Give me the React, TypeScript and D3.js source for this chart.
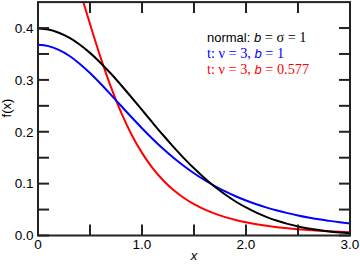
import React from "react";
import * as d3 from "d3";

const xs = [0, 0.1, 0.2, 0.3, 0.4, 0.5, 0.6, 0.7, 0.8, 0.9, 1.0, 1.1, 1.2, 1.3, 1.4, 1.5, 1.6, 1.7, 1.8, 1.9, 2.0, 2.1, 2.2, 2.3, 2.4, 2.5, 2.6, 2.7, 2.8, 2.9, 3.0];
const normalVals = [0.3989, 0.397, 0.391, 0.3814, 0.3683, 0.3521, 0.3332, 0.3123, 0.2897, 0.2661, 0.242, 0.2179, 0.1942, 0.1714, 0.1497, 0.1295, 0.1109, 0.094, 0.079, 0.0656, 0.054, 0.044, 0.0355, 0.0283, 0.0224, 0.0175, 0.0136, 0.0104, 0.0079, 0.006, 0.0044];
const tB1Vals = [0.3676, 0.3651, 0.3579, 0.3465, 0.3313, 0.3132, 0.293, 0.2716, 0.2497, 0.2279, 0.2068, 0.1866, 0.1678, 0.1504, 0.1345, 0.12, 0.107, 0.0954, 0.085, 0.0757, 0.0675, 0.0603, 0.0538, 0.0481, 0.0431, 0.0387, 0.0347, 0.0312, 0.0282, 0.0254, 0.023];
const tB0577Vals = [0.637, 0.6245, 0.589, 0.5362, 0.4734, 0.4077, 0.3444, 0.2869, 0.2368, 0.1944, 0.1593, 0.1304, 0.107, 0.088, 0.0727, 0.0603, 0.0503, 0.0421, 0.0354, 0.03, 0.0255, 0.0218, 0.0187, 0.0161, 0.0139, 0.0121, 0.0106, 0.0093, 0.0082, 0.0072, 0.0064];

const xMajor = [0, 1, 2, 3];
const xMajorLabels = ["0", "1.0", "2.0", "3.0"];
const xTicksAll = [0, 0.5, 1, 1.5, 2, 2.5, 3];
const yMajor = [0, 0.1, 0.2, 0.3, 0.4];
const yMajorLabels = ["0.0", "0.1", "0.2", "0.3", "0.4"];
const yTicksAll = [0, 0.05, 0.1, 0.15, 0.2, 0.25, 0.3, 0.35, 0.4];

const SANS = "'Liberation Sans', Arial, Helvetica, sans-serif";
const SERIF = "'Liberation Serif', 'Times New Roman', serif";

export default function App() {
  const W = 360, H = 265;
  const L = 38, R = 350, T = 2.1, B = 235.5;
  const x = d3.scaleLinear().domain([0, 3]).range([L, R]);
  const y = d3.scaleLinear().domain([0, 0.45]).range([B, T]);
  const line = d3
    .line<number>()
    .x((_, i) => x(xs[i]))
    .y((d) => y(d))
    .curve(d3.curveCatmullRom.alpha(0.5));
  const tick = 11;
  const frame = "#222";
  const series = [
    { vals: tB0577Vals, color: "#ff0000" },
    { vals: tB1Vals, color: "#0000ff" },
    { vals: normalVals, color: "#000000" },
  ];
  return (
    <svg width={W} height={H} style={{ position: "absolute", left: 0, top: 0 }}>
      <rect x={0} y={0} width={W} height={H} fill="#fff" />
      <defs>
        <clipPath id="plotclip">
          <rect x={L} y={T} width={R - L} height={B - T} />
        </clipPath>
      </defs>
      <g clipPath="url(#plotclip)">
        {series.map((s, i) => (
          <path key={i} d={line(s.vals) || ""} fill="none" stroke={s.color} strokeWidth={2} />
        ))}
      </g>
      <g stroke={frame} strokeWidth={2}>
        {xTicksAll.map((t, i) => (
          <g key={"xt" + i}>
            <line x1={x(t)} x2={x(t)} y1={B} y2={B - tick} />
            <line x1={x(t)} x2={x(t)} y1={T} y2={T + tick} />
          </g>
        ))}
        {yTicksAll.map((t, i) => (
          <g key={"yt" + i}>
            <line x1={L} x2={L + tick} y1={y(t)} y2={y(t)} />
            <line x1={R} x2={R - tick} y1={y(t)} y2={y(t)} />
          </g>
        ))}
      </g>
      <rect x={L} y={T} width={R - L} height={B - T} fill="none" stroke={frame} strokeWidth={2} />
      <g fontFamily={SANS} fontSize={13.5} fill="#000">
        {xMajor.map((t, i) => (
          <text key={"xl" + i} x={x(t)} y={248.5} textAnchor="middle">
            {xMajorLabels[i]}
          </text>
        ))}
        {yMajor.map((t, i) => (
          <text key={"yl" + i} x={33.5} y={y(t) + 4.8} textAnchor="end">
            {yMajorLabels[i]}
          </text>
        ))}
      </g>
      <text x={194} y={260} textAnchor="middle" fontFamily={SANS} fontStyle="italic" fontSize={13}>
        x
      </text>
      <text
        transform="translate(11,108) rotate(-90)"
        textAnchor="middle"
        fontFamily={SANS}
        fontSize={13}
      >
        f(x)
      </text>
      <g>
        <text x={207} y={42} fill="#000">
          <tspan fontFamily={SANS} fontSize={13}>normal: </tspan>
          <tspan fontFamily={SANS} fontSize={13} fontStyle="italic">b</tspan>
          <tspan fontFamily={SERIF} fontSize={14.3}> = σ = 1</tspan>
        </text>
        <text x={207} y={58} fill="#0000ff">
          <tspan fontFamily={SERIF} fontSize={14.3}>t: ν = 3, </tspan>
          <tspan fontFamily={SANS} fontSize={13} fontStyle="italic">b</tspan>
          <tspan fontFamily={SERIF} fontSize={14.3}> = 1</tspan>
        </text>
        <text x={207} y={74} fill="#ff0000">
          <tspan fontFamily={SERIF} fontSize={14.3}>t: ν = 3, </tspan>
          <tspan fontFamily={SANS} fontSize={13} fontStyle="italic">b</tspan>
          <tspan fontFamily={SERIF} fontSize={14.3}> = 0.577</tspan>
        </text>
      </g>
    </svg>
  );
}
